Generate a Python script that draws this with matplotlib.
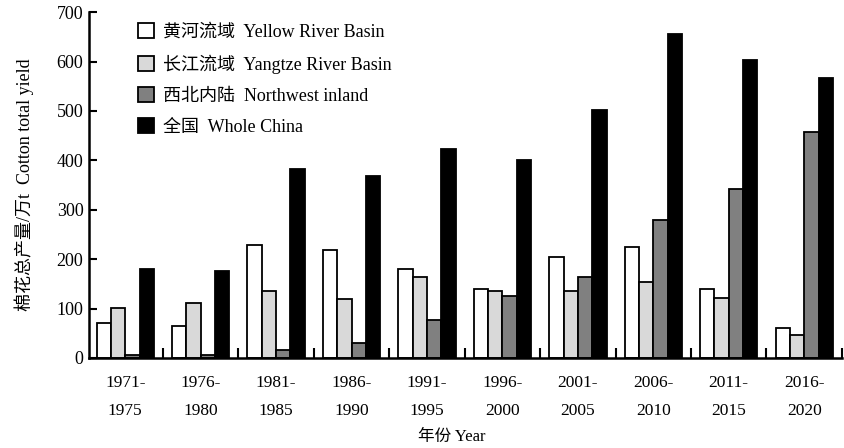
import numpy as np
import matplotlib
matplotlib.use("Agg")
from matplotlib import pyplot as plt

plt.rcParams['font.family'] = ['Liberation Serif', 'Noto Sans CJK SC']

# periods
periods = ["1971-\n1975", "1976-\n1980", "1981-\n1985", "1986-\n1990", "1991-\n1995",
           "1996-\n2000", "2001-\n2005", "2006-\n2010", "2011-\n2015", "2016-\n2020"]

# cotton yield, 10^4 t
yellow = [70, 65, 228, 219, 181, 140, 204, 225, 140, 60]
yangtze = [102, 112, 136, 119, 163, 136, 136, 153, 122, 47]
northwest = [6, 6, 16, 30, 77, 126, 164, 280, 341, 457]
whole = [180, 176, 382, 369, 422, 401, 501, 656, 604, 567]

names = ["黄河流域  Yellow River Basin", "长江流域  Yangtze River Basin",
         "西北内陆  Northwest inland", "全国  Whole China"]
colors = ["white", "#d9d9d9", "#808080", "black"]

fig = plt.figure(figsize=(8.44, 4.48), dpi=100)
ax = fig.add_axes([0.1055, 0.201, 0.892, 0.772])

x = np.arange(len(periods))
w = 0.19
series = [yellow, yangtze, northwest, whole]
for k, vals in enumerate(series):
    ax.bar(x + (k - 1.5) * w, vals, w, color=colors[k], edgecolor="black",
           linewidth=1.3, label=names[k])

ax.set_xlim(-0.48, 9.5)
ax.set_ylim(0, 700)
ax.set_yticks(range(0, 701, 100))
ax.tick_params(axis='y', direction='in', length=6, width=1.5, labelsize=13, pad=4)

# boundary ticks (no labels) and centred labels
ax.set_xticks(np.arange(0.5, 10, 1))
ax.set_xticklabels([])
ax.tick_params(axis='x', which='major', direction='in', length=7, width=1.5)
ax.set_xticks(x, minor=True)
ax.set_xticklabels(periods, minor=True, linespacing=2.0)
ax.tick_params(axis='x', which='minor', length=0, labelsize=12.5, pad=12)

for s in ['top', 'right']:
    ax.spines[s].set_visible(False)
for s in ['left', 'bottom']:
    ax.spines[s].set_linewidth(1.8)

# x axis title placed in figure coords so it stays inside the canvas
fig.text(452 / 844, 1 - 437 / 448, "年份 Year", fontsize=12, ha='center', va='center')
ax.set_ylabel("棉花总产量/万t  Cotton total yield", fontsize=13, labelpad=16)

ax.legend(loc='upper left', bbox_to_anchor=(0.05, 1.0), frameon=False, fontsize=13,
          handlelength=0.9, handleheight=0.9, handletextpad=0.5, labelspacing=0.75,
          borderaxespad=0.2)

fig.savefig("out.png", dpi=100)
